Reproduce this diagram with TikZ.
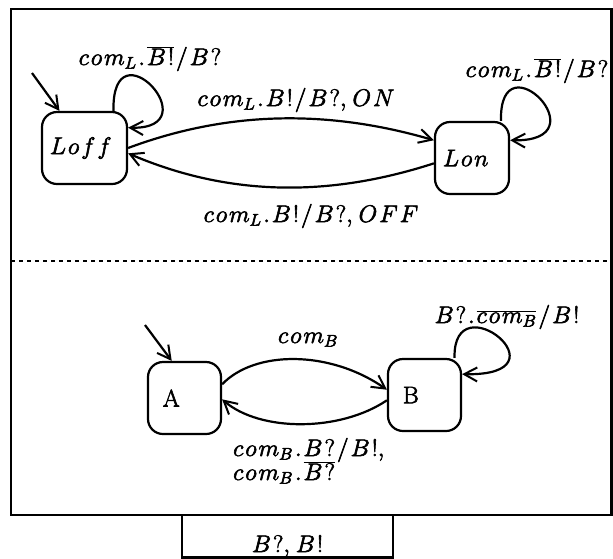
\RequirePackage{fix-cm}
\documentclass[tikz,border=0pt]{standalone}
\usetikzlibrary{arrows.meta}
\newcommand{\gk}{\kern2pt}
\begin{document}
\begin{tikzpicture}[x=1pt,y=-1pt,
  font=\fontsize{24}{28}\selectfont,
  heavy/.style={execute at begin node={\special{pdf:code 2 Tr 0.6 w}},
    execute at end node={\special{pdf:code 0 Tr}}},
  statebox/.style={draw, line width=2.2pt, rounded corners=15pt,
    minimum height=72pt, inner ysep=0pt, align=left, heavy},
  arr/.style={line width=2.2pt, -{Straight Barb[length=13pt,width=14pt,line width=2pt]}},
  lab/.style={inner sep=0pt, anchor=base, heavy},
  frame/.style={line width=2.5pt}]
\useasboundingbox (0,0) rectangle (613,558);
% frames
\draw[frame] (11,9) rectangle (611.5,515);
\draw[frame] (182,515) rectangle (393,557.5);
\draw[line width=2pt, dash pattern=on 4pt off 4pt] (11,261) -- (611.5,261);
% states
\node[statebox, minimum width=85pt, inner xsep=8pt, text width=69pt] (Loff) at (84.5,148) {$L\gk o\gk f\gk f$};
\node[statebox, minimum width=74pt, inner xsep=8pt, text width=58pt] (Lon) at (472,158) {$L\gk o\gk n$};
\node[statebox, minimum width=73pt, inner xsep=15pt, text width=43pt] (A) at (184.5,398) {A};
\node[statebox, minimum width=73pt, inner xsep=15pt, text width=43pt] (B) at (424.5,395) {B};
% initial arrows
\coordinate (i1) at (32,73);
\coordinate (i2) at (145,325);
\draw[arr] (i1) -- (Loff.124);
\draw[arr] (i2) -- (A.109);
% transitions
\draw[arr] (Loff.east) .. controls (230,110) and (330,110) .. (Lon.155);
\draw[arr] (Lon.188) .. controls (330,197) and (230,197) .. (Loff.353);
\draw[arr] (A.20) .. controls (255,350) and (330,350) .. (B.172);
\draw[arr] (B.188) .. controls (340,432) and (260,432) .. (A.358);
% loops
\draw[arr] (Loff.52) .. controls +(-2,-90) and +(84,2) .. (Loff.25);
\draw[arr] (Lon.52) .. controls +(-2,-86) and +(94,2) .. (Lon.25);
\draw[arr] (B.51) .. controls +(-2,-78) and +(110,2) .. (B.29);
% labels
\node[lab] (l1) at (150,65) {$c\gk o\gk m_L\gk.\gk\overline{B\gk!}\gk/\gk B\gk?$};
\node[lab] (l2) at (537,77) {$c\gk o\gk m_L\gk.\gk\overline{B\gk!}\gk/\gk B\gk?$};
\node[lab] (l3) at (296,106) {$c\gk o\gk m_L\gk.\gk B\gk!\gk/\gk B\gk?,\gk O\gk N$};
\node[lab] (l4) at (311,222) {$c\gk o\gk m_L\gk.\gk B\gk!\gk/\gk B\gk?,\gk O\gk F\gk F$};
\node[lab] (l5) at (308,343) {$c\gk o\gk m_B$};
\node[lab] (l6) at (507,323) {$B\gk?\gk.\gk\overline{c\gk o\gk m_B}\gk/\gk B\gk!$};
\node[lab, anchor=base west] (l7) at (233,456) {$c\gk o\gk m_B\gk.\gk B\gk?\gk/\gk B\gk!,$};
\node[lab, anchor=base west] (l8) at (233,480) {$c\gk o\gk m_B\gk.\gk\overline{B\gk?}$};
\node[lab] (l9) at (287.5,552) {$B\gk?,\gk B\gk!$};
\end{tikzpicture}
\end{document}
